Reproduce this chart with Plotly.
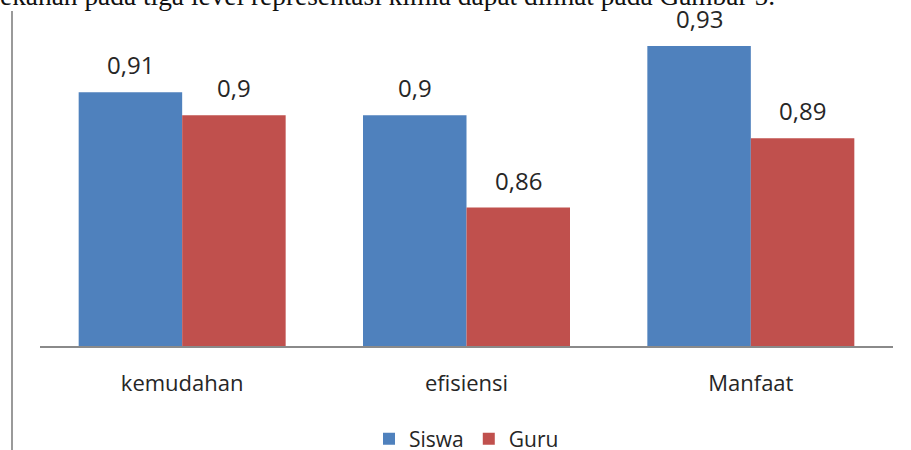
import plotly.graph_objects as go

categories = ["kemudahan", "efisiensi", "Manfaat"]
siswa = [0.91, 0.90, 0.93]
guru = [0.90, 0.86, 0.89]
series_names = ["Siswa", "Guru"]
colors = ["#4F81BD", "#C0504D"]
caption = "ekanan pada tiga level representasi kimia dapat dilihat pada Gambar 5."

W, H = 911, 450
ml, mr, mt, mb = 40, 18, 23, 104
pw = W - ml - mr
ph = H - mt - mb

fig = go.Figure()
for name, vals, col in zip(series_names, [siswa, guru], colors):
    fig.add_trace(go.Bar(
        x=categories, y=vals, name=name, marker=dict(color=col, line=dict(width=0)),
    ))

# data labels
bar_w = pw / 3 * (1 - 0.272) / 2
for vals, sign in [(siswa, -1), (guru, 1)]:
    for c, v in zip(categories, vals):
        fig.add_annotation(
            x=c, y=v, xref="x", yref="y", text=f"{v:.2f}".rstrip("0").replace(".", ","),
            showarrow=False, yanchor="bottom", xshift=sign * bar_w / 2, yshift=9,
            font=dict(family="Open Sans, sans-serif", size=24, color="#262626"),
        )

# clipped caption text from the page above
fig.add_annotation(
    x=-(ml + 2) / pw, y=(ph + mt - 13) / ph, xref="paper", yref="paper",
    xanchor="left", yanchor="bottom", showarrow=False,
    text=caption,
    font=dict(family="Liberation Serif, serif", size=27.4, color="#111"),
)

fig.add_shape(type="line", xref="paper", yref="paper",
              x0=-28 / pw, x1=-28 / pw, y0=-mb / ph, y1=(ph + mt - 11) / ph,
              line=dict(color="#9a9a9a", width=2))

fig.update_layout(
    width=W, height=H,
    margin=dict(l=ml, r=mr, t=mt, b=mb),
    paper_bgcolor="white", plot_bgcolor="white",
    barmode="group", bargap=0.272, bargroupgap=0,
    separators=",.",
    showlegend=True,
    legend=dict(orientation="h", x=0.5, xanchor="center",
                yref="container", y=1 - 439 / H, yanchor="middle",
                font=dict(family="Open Sans, sans-serif", size=21, color="#262626"),
                itemwidth=30, traceorder="normal"),
    xaxis=dict(showline=True, linecolor="#8a8a8a", linewidth=2, ticks="",
               tickfont=dict(family="Open Sans, sans-serif", size=22, color="#262626"),
               ticklabelstandoff=17),
    yaxis=dict(range=[0.80, 0.94], visible=False, showgrid=False),
    font=dict(family="Open Sans, sans-serif"),
)

fig.write_html("out.html", config={"displayModeBar": False},
               post_script="document.body.style.margin='0';")
